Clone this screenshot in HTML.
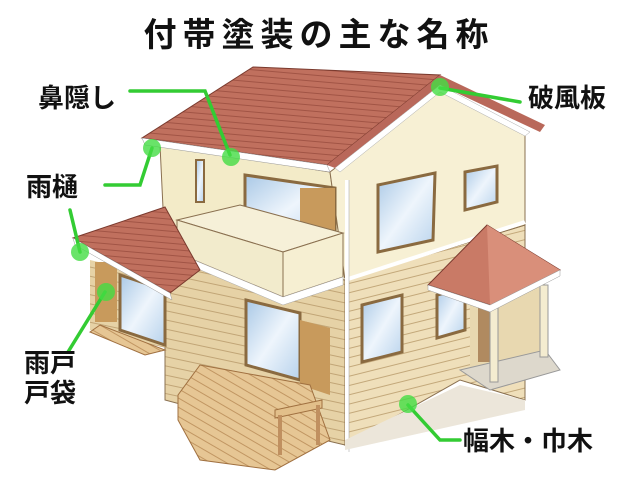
<!DOCTYPE html>
<html><head><meta charset="utf-8">
<style>
html,body{margin:0;padding:0;background:#fff;}
body{width:640px;height:480px;overflow:hidden;position:relative;}
svg{position:absolute;left:0;top:0;}
text{font-family:"Liberation Sans","Noto Sans CJK JP",sans-serif;font-weight:bold;fill:#111;}
</style></head><body>
<svg width="640" height="480" viewBox="0 0 640 480">
<defs>
<pattern id="sid" width="8" height="9" patternUnits="userSpaceOnUse" patternTransform="rotate(-14)">
<rect width="8" height="9" fill="#efdfba"/><line x1="0" y1="8.5" x2="8" y2="8.5" stroke="#b89a6a" stroke-width="0.8"/></pattern>
<pattern id="sidL" width="8" height="9" patternUnits="userSpaceOnUse" patternTransform="rotate(12)">
<rect width="8" height="9" fill="#e6d2a6"/><line x1="0" y1="8.5" x2="8" y2="8.5" stroke="#b89a6a" stroke-width="0.8"/></pattern>
<pattern id="roof" width="10" height="6" patternUnits="userSpaceOnUse" patternTransform="rotate(5)">
<rect width="10" height="6" fill="#c0705e"/><line x1="0" y1="5.5" x2="10" y2="5.5" stroke="#9a4d3e" stroke-width="0.8"/></pattern>
<pattern id="deck" width="8" height="8" patternUnits="userSpaceOnUse" patternTransform="rotate(30)">
<rect width="8" height="8" fill="#e6c694"/><line x1="0" y1="7.5" x2="8" y2="7.5" stroke="#b88a55" stroke-width="0.8"/></pattern>
<linearGradient id="gl" x1="0" y1="0" x2="1" y2="1"><stop offset="0" stop-color="#a9c8e6"/><stop offset="0.5" stop-color="#eef5fc"/><stop offset="1" stop-color="#b7d2ec"/></linearGradient>
</defs>
<polygon points="345,280 525,225 525,400 460,380 345,445" fill="url(#sid)" stroke="#8a7050" stroke-width="1"/>
<polygon points="165,250 345,280 345,445 240,420 165,400" fill="url(#sidL)" stroke="#8a7050" stroke-width="1"/>
<polygon points="90,260 175,280 175,350 90,330" fill="url(#sidL)"/>
<polygon points="160,145 330,172 345,280 165,250" fill="#f3ebc8" stroke="#8a7050"/>
<polygon points="330,172 440,88 525,130 525,225 345,280" fill="#f7f0d4" stroke="#8a7050"/>
<line x1="345" y1="280" x2="525" y2="222" stroke="#fff" stroke-width="4"/>
<polygon points="253,67 440,75 327,165 142,138" fill="url(#roof)" stroke="#7a3a2e"/>
<polygon points="440,75 545,125 540,132 440,85 335,168 327,165" fill="#b9685a"/>
<polygon points="440,85 530,132 525,136 440,92 340,172 335,168" fill="#fff" stroke="#aaa" stroke-width="0.5"/>
<polygon points="142,138 327,165 330,172 145,145" fill="#fff" stroke="#999" stroke-width="0.5"/>
<rect x="196" y="160" width="8" height="42" fill="url(#gl)" stroke="#8a6a40" stroke-width="2"/>
<polygon points="245,175 335,188 335,240 245,240" fill="url(#gl)" stroke="#8a6a40" stroke-width="3"/>
<rect x="300" y="188" width="35" height="55" fill="#c89a5c"/>
<polygon points="378,185 435,173 433,240 378,252" fill="url(#gl)" stroke="#8a6a40" stroke-width="3"/>
<polygon points="465,172 497,166 497,202 465,210" fill="url(#gl)" stroke="#8a6a40" stroke-width="3"/>
<!-- balcony -->
<polygon points="177,220 240,205 343,233 283,252" fill="#f6f0d8" stroke="#8a7050"/>
<polygon points="177,220 283,252 283,297 177,253" fill="#f2ebcc" stroke="#8a7050"/>
<polygon points="283,252 343,233 343,277 283,297" fill="#f6efd2" stroke="#8a7050"/>
<polygon points="177,253 283,297 343,277 343,285 283,305 177,260" fill="#fff" stroke="#aaa" stroke-width="0.5"/>
<polygon points="246,300 300,313 300,380 246,365" fill="url(#gl)" stroke="#8a6a40" stroke-width="3"/>
<polygon points="300,320 330,328 330,395 300,385" fill="#c89a5c"/>
<polygon points="120,275 165,290 165,345 120,330" fill="url(#gl)" stroke="#8a6a40" stroke-width="3"/>
<rect x="95" y="262" width="22" height="60" fill="#c89a5c"/>
<polygon points="362,305 402,295 402,352 362,362" fill="url(#gl)" stroke="#8a6a40" stroke-width="3"/>
<polygon points="437,295 465,288 465,330 437,338" fill="url(#gl)" stroke="#8a6a40" stroke-width="3"/>
<polygon points="73,238 165,207 200,270 170,293" fill="url(#roof)" stroke="#7a3a2e"/>
<polygon points="73,238 170,293 172,300 75,245" fill="#fff" stroke="#999" stroke-width="0.5"/>
<line x1="347" y1="180" x2="347" y2="452" stroke="#fff" stroke-width="4"/>
<line x1="349" y1="180" x2="349" y2="452" stroke="#aaa" stroke-width="0.6"/>
<polygon points="345,440 460,385 525,400 525,410 345,450" fill="#ece6da"/>
<polygon points="470,300 545,280 545,370 470,370" fill="#e8d8b0"/>
<rect x="478" y="302" width="20" height="60" fill="#b08a60"/>
<polygon points="460,370 545,350 560,370 490,390" fill="#ddd8cc" stroke="#999"/>
<rect x="490" y="300" width="8" height="82" fill="#f4ecd0" stroke="#999"/>
<rect x="540" y="285" width="8" height="72" fill="#f4ecd0" stroke="#999"/>
<polygon points="487,225 428,285 490,305 560,270" fill="#c97a66" stroke="#7a3a2e"/>
<polygon points="487,225 490,305 560,270" fill="#d98f7a"/>
<polygon points="428,285 490,305 560,270 560,276 490,312 428,290" fill="#fff" stroke="#999" stroke-width="0.5"/>
<polygon points="100,325 165,350 145,355 90,332" fill="url(#deck)" stroke="#a07040"/>
<polygon points="178,395 200,365 310,385 330,440 275,470 200,460 178,420" fill="url(#deck)" stroke="#a07040"/>
<polygon points="275,410 322,400 322,408 275,418" fill="#e2bf8a" stroke="#a07040"/>
<line x1="280" y1="415" x2="280" y2="455" stroke="#c09060" stroke-width="4"/>
<line x1="318" y1="405" x2="318" y2="445" stroke="#c09060" stroke-width="4"/>
<g stroke="#33cc33" stroke-width="3.5" fill="none" stroke-linecap="round">
<polyline points="130,91 205,91 230,155"/>
<polyline points="105,185 140,185 152,148"/>
<polyline points="70,210 80,252"/>
<polyline points="68,352 105,292"/>
<polyline points="520,102 440,88"/>
<polyline points="460,440 440,440 408,405"/>
</g>
<g fill="#44dd44" opacity="0.8">
<circle cx="231" cy="157" r="9"/><circle cx="152" cy="148" r="9"/><circle cx="80" cy="252" r="9"/>
<circle cx="106" cy="292" r="9"/><circle cx="440" cy="87" r="9"/><circle cx="408" cy="404" r="9"/>
</g>
<text x="319" y="46" font-size="33" text-anchor="middle" letter-spacing="6">付帯塗装の主な名称</text>
<text x="38" y="107" font-size="26">鼻隠し</text>
<text x="26" y="196" font-size="26">雨樋</text>
<text x="24" y="372" font-size="26">雨戸</text>
<text x="24" y="402" font-size="26">戸袋</text>
<text x="528" y="107" font-size="26">破風板</text>
<text x="463" y="450" font-size="26">幅木・巾木</text>
</svg>
</body></html>
